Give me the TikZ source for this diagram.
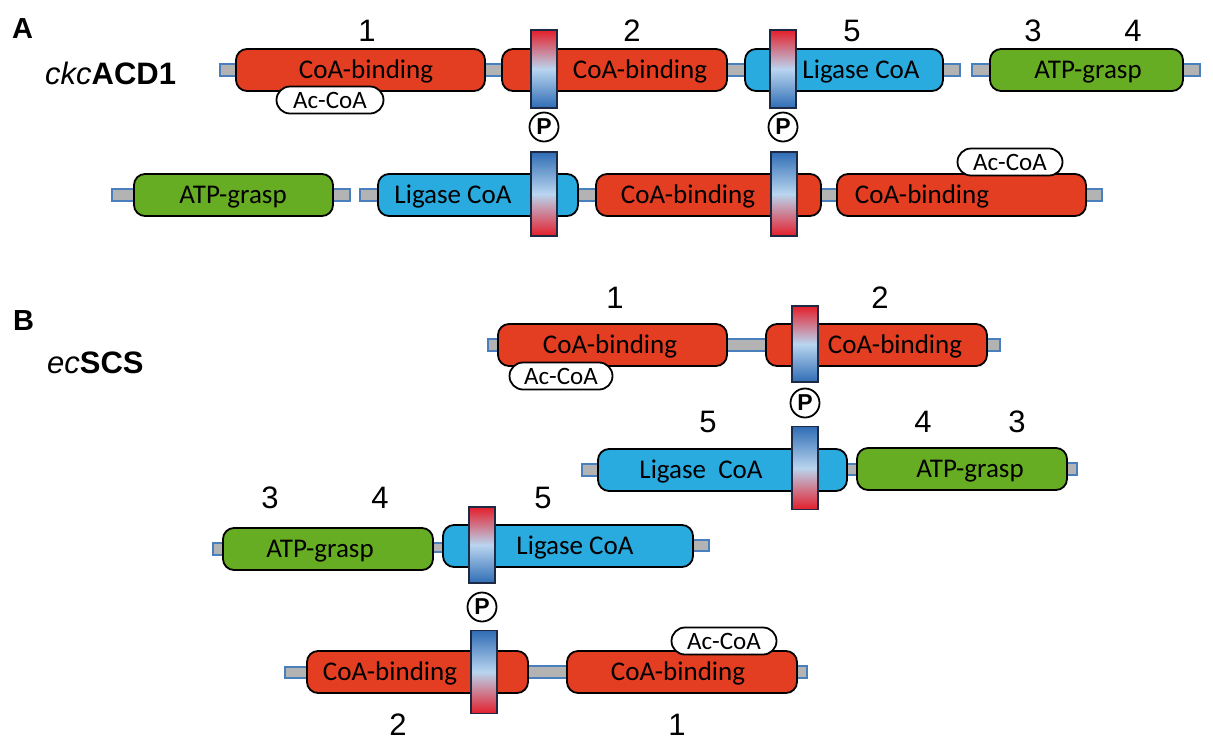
\documentclass[tikz,border=0pt]{standalone}
\usepackage{fontspec}
\setmainfont{Liberation Sans}
\newfontfamily\carl{Carlito}
\usetikzlibrary{calc}
\pgfdeclarelayer{back}
\pgfsetlayers{back,main}
\definecolor{dred}{HTML}{E33D22}
\definecolor{dblue}{HTML}{29ABE0}
\definecolor{dgreen}{HTML}{67AD23}
\definecolor{lgray}{HTML}{B3B3B3}
\definecolor{lblue}{HTML}{4A7FBD}
\definecolor{bred}{HTML}{E41E2B}
\definecolor{bmid}{HTML}{B9D5EF}
\definecolor{bblue}{HTML}{2F6DB5}
\definecolor{bline}{HTML}{1E2A44}
\tikzset{
  dom/.style={draw=black, line width=1.8pt, rounded corners=11pt, minimum height=42pt, inner sep=0pt},
  domred/.style={dom, fill=dred},
  domblue/.style={dom, fill=dblue},
  domgreen/.style={dom, fill=dgreen},
  linker/.style={draw=lblue, fill=lgray, line width=1.3pt},
  bar/.style={draw=bline, line width=1.5pt, minimum width=26pt, minimum height=80pt, inner sep=0pt},
  barRB/.style={bar, top color=bred, bottom color=bblue, middle color=bmid},
  barBR/.style={bar, top color=bblue, bottom color=bred, middle color=bmid},
  pcirc/.style={circle, draw=black, fill=white, line width=1.8pt, minimum size=29pt, inner sep=0pt, font=\fontsize{23}{23}\selectfont\bfseries},
  acoa/.style={draw=black, fill=white, line width=1.8pt, rounded corners=13.5pt, minimum height=27pt, inner sep=0pt},
  actext/.style={anchor=base, font=\carl\fontsize{25}{25}\selectfont},
  dtext/.style={anchor=base, font=\carl\fontsize{27}{27}\selectfont},
  num/.style={font=\fontsize{31}{31}\selectfont, inner sep=0pt},
  title/.style={anchor=base west, font=\fontsize{31}{31}\selectfont, inner sep=0pt},
  panel/.style={anchor=base west, font=\fontsize{29}{29}\selectfont\bfseries, inner sep=0pt}
}
\begin{document}
\begin{tikzpicture}[x=1pt,y=-1pt]
\useasboundingbox (0,0) rectangle (1213,740);

% ---------------- Panel A ----------------
\node[panel] (pA) at (12,38) {A};
\node[title] (tA) at (45,84) {{\itshape ckc}\textbf{ACD1}};

\coordinate (la0) at (220,70);
\coordinate (la3e) at (960,70);
\coordinate (la4s) at (972,70);
\coordinate (la4e) at (1200,70);
\node[domred, minimum width=249pt] (a1) at (360.5,70) {};
\node[domred, minimum width=225pt] (a2) at (614.5,70) {};
\node[domblue, minimum width=198pt] (a3) at (844,70) {};
\node[domgreen, minimum width=193pt] (a4) at (1086.5,70) {};

\coordinate (lb0) at (112,195);
\coordinate (lb5e) at (350,195);
\coordinate (lb6s) at (360,195);
\coordinate (lb8e) at (1102,195);
\node[domgreen, minimum width=199pt] (a5) at (233.5,195) {};
\node[domblue, minimum width=200pt] (a6) at (478,195) {};
\node[domred, minimum width=225pt] (a7) at (708.5,195) {};
\node[domred, minimum width=249pt] (a8) at (961.5,195) {};

% ---------------- Panel B ----------------
\node[panel] (pB) at (13,330) {B};
\node[title] (tB) at (47,373) {{\itshape ec}\textbf{SCS}};

\coordinate (lc0) at (488,345);
\coordinate (lc2e) at (1000,345);
\node[domred, minimum width=229pt] (b1) at (612.5,345) {};
\node[domred, minimum width=221pt] (b2) at (876.5,345) {};

\coordinate (ld0) at (582,470);
\coordinate (ld4e) at (1077,469);
\node[domblue, minimum width=249pt] (b3) at (722.5,470) {};
\node[domgreen, minimum width=210pt] (b4) at (962,469) {};

\coordinate (le0) at (213,549);
\coordinate (le6e) at (709,545);
\node[domgreen, minimum width=210pt] (b5) at (328,549) {};
\node[domblue, minimum width=250pt] (b6) at (568,546) {};

\coordinate (lf0) at (285,673);
\coordinate (lf8e) at (807,672);
\node[domred, minimum width=221pt] (b7) at (417.5,672) {};
\node[domred, minimum width=230pt] (b8) at (682,672) {};

% ---------------- linkers (behind domains) ----------------
\begin{pgfonlayer}{back}
\draw[linker] ($(la0)+(0,-6)$) rectangle ($(a1.west)+(5,6)$);
\draw[linker] ($(a1.east)+(-5,-6)$) rectangle ($(a2.west)+(5,6)$);
\draw[linker] ($(a2.east)+(-5,-6)$) rectangle ($(a3.west)+(5,6)$);
\draw[linker] ($(a3.east)+(-5,-6)$) rectangle ($(la3e)+(0,6)$);
\draw[linker] ($(la4s)+(0,-6)$) rectangle ($(a4.west)+(5,6)$);
\draw[linker] ($(a4.east)+(-5,-6)$) rectangle ($(la4e)+(0,6)$);

\draw[linker] ($(lb0)+(0,-6)$) rectangle ($(a5.west)+(5,6)$);
\draw[linker] ($(a5.east)+(-5,-6)$) rectangle ($(lb5e)+(0,6)$);
\draw[linker] ($(lb6s)+(0,-6)$) rectangle ($(a6.west)+(5,6)$);
\draw[linker] ($(a6.east)+(-5,-6)$) rectangle ($(a7.west)+(5,6)$);
\draw[linker] ($(a7.east)+(-5,-6)$) rectangle ($(a8.west)+(5,6)$);
\draw[linker] ($(a8.east)+(-5,-6)$) rectangle ($(lb8e)+(0,6)$);

\draw[linker] ($(lc0)+(0,-6)$) rectangle ($(b1.west)+(5,6)$);
\draw[linker] ($(b1.east)+(-5,-6)$) rectangle ($(b2.west)+(5,6)$);
\draw[linker] ($(b2.east)+(-5,-6)$) rectangle ($(lc2e)+(0,6)$);

\draw[linker] ($(ld0)+(0,-6)$) rectangle ($(b3.west)+(5,6)$);
\draw[linker] ($(b3.east)+(-5,-6)$) rectangle ($(b4.west)+(5,6)$);
\draw[linker] ($(b4.east)+(-5,-6)$) rectangle ($(ld4e)+(0,6)$);

\draw[linker] ($(le0)+(0,-6)$) rectangle ($(b5.west)+(5,6)$);
\draw[linker] ($(b5.east)+(-5,-6)$) rectangle ($(b6.west)+(5,6)$);
\draw[linker] ($(b6.east)+(-5,-6)$) rectangle ($(le6e)+(0,6)$);

\draw[linker] ($(lf0)+(0,-6)$) rectangle ($(b7.west)+(5,6)$);
\draw[linker] ($(b7.east)+(-5,-6)$) rectangle ($(b8.west)+(5,6)$);
\draw[linker] ($(b8.east)+(-5,-6)$) rectangle ($(lf8e)+(0,6)$);
\end{pgfonlayer}

% ---------------- domain texts ----------------
\node[dtext] (ta1) at (366,78) {CoA-binding};
\node[dtext] (ta2) at (640,78) {CoA-binding};
\node[dtext] (ta3) at (861,78) {Ligase CoA};
\node[dtext] (ta4) at (1088,78) {ATP-grasp};
\node[dtext] (ta5) at (233,203) {ATP-grasp};
\node[dtext] (ta6) at (453,203) {Ligase CoA};
\node[dtext] (ta7) at (688,203) {CoA-binding};
\node[dtext] (ta8) at (922,203) {CoA-binding};

\node[dtext] (tb1) at (610,353) {CoA-binding};
\node[dtext] (tb2) at (895,353) {CoA-binding};
\node[dtext] (tb3) at (701,478) {Ligase\ \ CoA};
\node[dtext] (tb4) at (970,477) {ATP-grasp};
\node[dtext] (tb5) at (320,557) {ATP-grasp};
\node[dtext] (tb6) at (575,554) {Ligase CoA};
\node[dtext] (tb7) at (390,680) {CoA-binding};
\node[dtext] (tb8) at (678,680) {CoA-binding};

% ---------------- bars ----------------
\node[barRB, minimum height=78pt] (ba1) at (544,69) {};
\node[barRB, minimum height=78pt] (ba2) at (783,69) {};
\node[barBR, minimum height=84pt] (ba3) at (544,194) {};
\node[barBR, minimum height=84pt] (ba4) at (784,194) {};

\node[barRB, minimum height=76pt] (bb1) at (805,344) {};
\node[barBR, minimum height=83pt] (bb2) at (805,468) {};
\node[barRB, minimum height=76pt] (bb3) at (482,545) {};
\node[barBR, minimum height=83pt] (bb4) at (484,672) {};

% ---------------- phosphates ----------------
\node[pcirc] (pa1) at (544,127) {P};
\node[pcirc] (pa2) at (783,127) {P};
\node[pcirc] (pb1) at (805,403) {P};
\node[pcirc] (pb2) at (482,607) {P};

% ---------------- Ac-CoA ----------------
\node[acoa, minimum width=107pt] (ac1) at (330,100) {};
\node[actext] (acx1) at ($(ac1)+(0,8.5)$) {Ac-CoA};
\node[acoa, minimum width=105pt] (ac2) at (1010,162) {};
\node[actext] (acx2) at ($(ac2)+(0,8.5)$) {Ac-CoA};
\node[acoa, minimum width=103pt] (ac3) at (561,376) {};
\node[actext] (acx3) at ($(ac3)+(0,8.5)$) {Ac-CoA};
\node[acoa, minimum width=105pt] (ac4) at (724,641) {};
\node[actext] (acx4) at ($(ac4)+(0,8.5)$) {Ac-CoA};

% ---------------- numbers ----------------
\node[num] (n1) at (367,31) {1};
\node[num] (n2) at (632,31) {2};
\node[num] (n3) at (852,31) {5};
\node[num] (n4) at (1033,31) {3};
\node[num] (n5) at (1133,31) {4};

\node[num] (m1) at (615,298) {1};
\node[num] (m2) at (880,298) {2};
\node[num] (m3) at (708,422) {5};
\node[num] (m4) at (923,422) {4};
\node[num] (m5) at (1017,422) {3};
\node[num] (m6) at (270,498) {3};
\node[num] (m7) at (380,498) {4};
\node[num] (m8) at (543,498) {5};
\node[num] (m9) at (398,725) {2};
\node[num] (m10) at (677,725) {1};
\end{tikzpicture}
\end{document}
